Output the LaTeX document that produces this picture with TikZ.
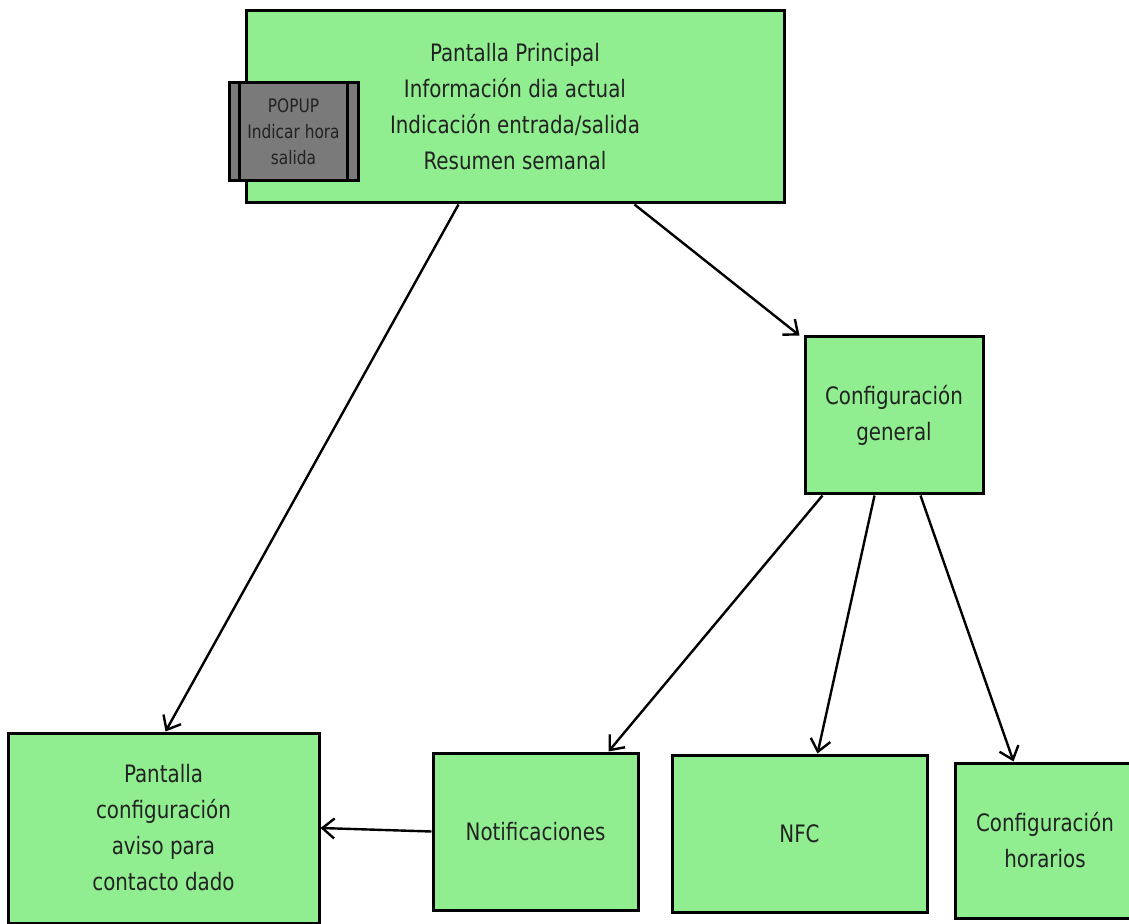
\documentclass[tikz,border=0pt]{standalone}
\usepackage{fontspec}
\setmainfont[FakeStretch=0.92]{DejaVu Sans Condensed}
\usepackage{tikz}
\usetikzlibrary{arrows.meta}
\definecolor{boxgreen}{RGB}{144,238,144}
\definecolor{popgray}{RGB}{122,122,122}
\definecolor{figtext}{RGB}{34,34,34}
\tikzset{
  scr/.style  ={draw=black, fill=boxgreen, line width=1.5pt, align=center,
                text=figtext, inner sep=0pt, font=\fontsize{12}{18}\selectfont},
  pop/.style  ={draw=black, fill=popgray, line width=1.5pt, align=center,
                text=figtext, inner sep=0pt, font=\fontsize{9.3}{13}\selectfont},
  nav/.style  ={draw=black, line width=1.2pt, -{Straight Barb[length=6pt,width=10pt]}},
}
\begin{document}
\begin{tikzpicture}[x=0.5pt,y=-0.5pt]
  \useasboundingbox (0,0) rectangle (1129,924);
  % pantallas
  \node[scr,minimum width=269pt,minimum height=96pt] (main) at (515,107)
    {Pantalla Principal\\Información dia actual\\Indicación entrada/salida\\Resumen semanal};
  \node[pop,minimum width=64.5pt,minimum height=49pt] (popup) at (293.5,132)
    {POPUP\\Indicar hora\\salida};
  \draw[line width=1.5pt] ([xshift=6pt]popup.north west) -- ([xshift=6pt]popup.south west);
  \draw[line width=1.5pt] ([xshift=-6pt]popup.north east) -- ([xshift=-6pt]popup.south east);
  \node[scr,minimum width=89pt,minimum height=78.5pt] (confgen) at (894,415.5)
    {Configuración\\general};
  \node[scr,minimum width=155.5pt,minimum height=95pt] (pantconf) at (163.5,828)
    {Pantalla\\configuración\\aviso para\\contacto dado};
  \node[scr,minimum width=102.5pt,minimum height=78.5pt] (notif) at (535.5,831.5)
    {Notificaciones};
  \node[scr,minimum width=127.5pt,minimum height=78.5pt] (nfc) at (799.5,833.5)
    {NFC};
  \node[scr,minimum width=90pt,minimum height=77.5pt] (horarios) at (1045,840.5)
    {Configuración\\horarios};
  % navegacion
  \draw[nav] ([xshift=107pt]main.south west) -- ([xshift=79.5pt]pantconf.north west);
  \draw[nav] ([xshift=195pt]main.south west) -- ([xshift=-2pt]confgen.north west);
  \draw[nav] ([xshift=9.5pt]confgen.south west) -- ([xshift=-15.5pt]notif.north east);
  \draw[nav] ([xshift=35.5pt]confgen.south west) -- ([xshift=73.5pt]nfc.north west);
  \draw[nav] ([xshift=58.5pt]confgen.south west) -- ([xshift=30pt]horarios.north west);
  \draw[nav] (notif.west) -- (pantconf.east);
\end{tikzpicture}
\end{document}
